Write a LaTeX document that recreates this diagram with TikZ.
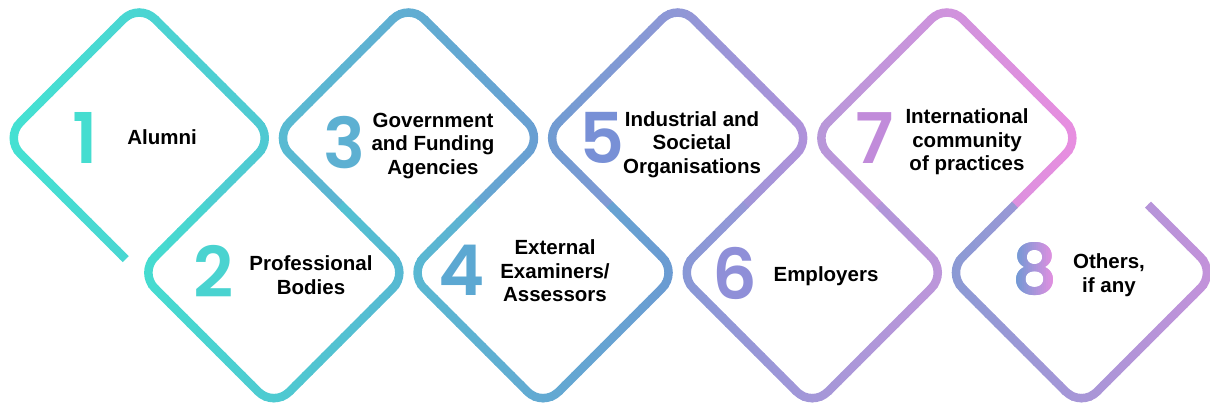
\documentclass[tikz,border=0pt]{standalone}
\usepackage{fontspec}
\setmainfont{Liberation Sans}
\newfontfamily\digitfont{Poppins SemiBold}
\definecolor{c1L}{HTML}{44E2D2}\definecolor{c1R}{HTML}{50C9D2}
\definecolor{c2L}{HTML}{45DDD0}\definecolor{c2R}{HTML}{57B8D2}
\definecolor{c3L}{HTML}{58BCD2}\definecolor{c3R}{HTML}{699FD2}
\definecolor{c4L}{HTML}{59B9D2}\definecolor{c4R}{HTML}{6B9BD2}
\definecolor{c5L}{HTML}{6E9CD2}\definecolor{c5R}{HTML}{B092DA}
\definecolor{c6L}{HTML}{8798D6}\definecolor{c6R}{HTML}{BE96DA}
\definecolor{c7L}{HTML}{B698D9}\definecolor{c7R}{HTML}{E88EE0}
\definecolor{c8L}{HTML}{8A9AD4}\definecolor{c8R}{HTML}{C492DA}
\definecolor{d1}{HTML}{45DDD0}\definecolor{d2}{HTML}{4AD3D0}
\definecolor{d3}{HTML}{5DB0D2}\definecolor{d4}{HTML}{5CA8D2}
\definecolor{d5}{HTML}{7890D6}\definecolor{d6}{HTML}{8F8FD8}
\definecolor{d7}{HTML}{C18BDA}
\definecolor{d8a}{HTML}{6A9AD4}\definecolor{d8b}{HTML}{E38FE0}
% #1 path, #2 xL, #3 xR, #4 left colour, #5 right colour
\newcommand\gradstroke[5]{%
  \foreach \i in {0,...,27}{%
    \pgfmathsetmacro\xa{(#2)+((#3)-(#2))*\i/28-0.6}%
    \pgfmathsetmacro\xb{(#2)+((#3)-(#2))*(\i+1)/28+0.6}%
    \ifnum\i=0 \pgfmathsetmacro\xa{(#2)-20}\fi
    \ifnum\i=27 \pgfmathsetmacro\xb{(#3)+20}\fi
    \pgfmathtruncatemacro\p{100-(\i+0.5)*100/28}%
    \begin{scope}
      \clip (\xa,-20) rectangle (\xb,430);
      \draw[ring, draw=#4!\p!#5] #1;
    \end{scope}
  }%
}
\newcommand\topd[3]{%
  \gradstroke{(#1-\h/2,\cyT+\h/2) -- (#1-\h,\cyT) -- (#1,\cyT-\h) -- (#1+\h,\cyT) -- (#1+\h/2,\cyT+\h/2)}{#1-\h}{#1+\h}{#2}{#3}}
\newcommand\botd[3]{%
  \gradstroke{(#1-\h/2+0.7,\cyB-\h/2-0.7) -- (#1-\h,\cyB) -- (#1,\cyB+\h) -- (#1+\h,\cyB) -- (#1+\h/2-0.7,\cyB-\h/2-0.7)}{#1-\h}{#1+\h}{#2}{#3}}
\begin{document}
\begin{tikzpicture}[x=1pt,y=-1pt,
  ring/.style={line width=8.5pt, rounded corners=22pt, line cap=butt},
  digit/.style={font=\digitfont\fontsize{70}{70}\selectfont, inner sep=0pt},
  lbl/.style={font=\bfseries\fontsize{20.5}{23.5}\selectfont, align=center, inner sep=0pt, text=black}]
\useasboundingbox (0,0) rectangle (1210,405);
\pgfmathsetmacro\h{134.6}
\pgfmathsetmacro\cyT{138.05}
\pgfmathsetmacro\cyB{272.65}
% diamond 1 (open at its lower-left edge)
\gradstroke{(139.25-0.1*\h,\cyT+0.9*\h) -- (139.25-\h,\cyT) -- (139.25,\cyT-\h) -- (139.25+\h,\cyT) -- (139.25+\h/2,\cyT+\h/2)}{139.25-\h}{139.25+\h}{c1L}{c1R}
\topd{408.45}{c3L}{c3R}
\topd{677.65}{c5L}{c5R}
\topd{946.85}{c7L}{c7R}
\botd{273.85}{c2L}{c2R}
\botd{543.05}{c4L}{c4R}
\botd{812.25}{c6L}{c6R}
\botd{1081.45}{c8L}{c8R}
% digits
\node[digit, text=d1] (n1) at (85,138) {1};
\node[digit, text=d2] (n2) at (214,271) {2};
\node[digit, text=d3] (n3) at (344,143) {3};
\node[digit, text=d4] (n4) at (462,270) {4};
\node[digit, text=d5] (n5) at (602,138) {5};
\node[digit, text=d6] (n6) at (735,273) {6};
\node[digit, text=d7] (n7) at (875,138) {7};
\foreach \i in {0,...,19}{%
  \pgfmathsetmacro\xa{1015+\i*2}%
  \pgfmathtruncatemacro\p{100-(\i+0.5)*5}%
  \begin{scope}
    \ifnum\i=0 \clip (980,200) rectangle (\xa+2.4,340);
    \else\ifnum\i=19 \clip (\xa-0.3,200) rectangle (1090,340);
    \else \clip (\xa-0.3,200) rectangle (\xa+2.4,340);\fi\fi
    \node[digit, text=d8a!\p!d8b] (n8) at (1035,269) {8};
  \end{scope}
}
% labels
\node[lbl] (t1) at (162,137) {Alumni};
\node[lbl] (t2) at (311,275) {Professional\\Bodies};
\node[lbl] (t3) at (433,146) {Government\\and Funding\\Agencies};
\node[lbl] (t4) at (555,271) {External\\Examiners/\\Assessors};
\node[lbl] (t5) at (692,144.5) {Industrial and\\Societal\\Organisations};
\node[lbl] (t6) at (826,276) {Employers};
\node[lbl] (t7) at (967,142) {International\\community\\of practices};
\node[lbl] (t8) at (1109,275) {Others,\\if any};
\end{tikzpicture}
\end{document}
